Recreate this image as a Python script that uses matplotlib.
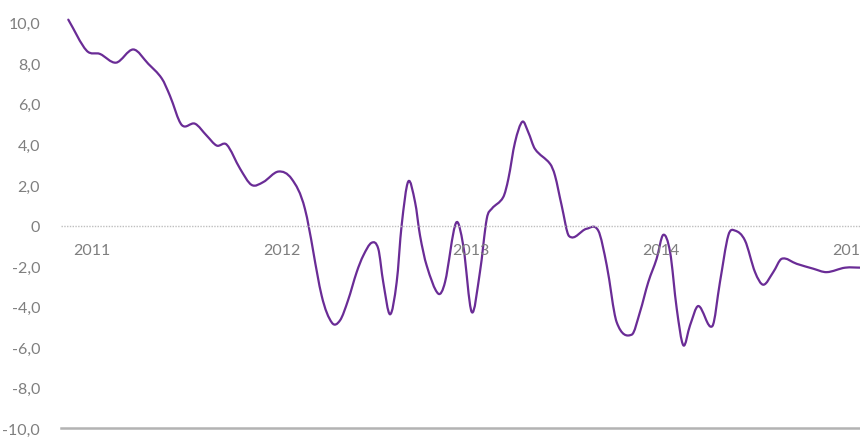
import numpy as np
import matplotlib.pyplot as plt
from matplotlib.path import Path
from matplotlib.patches import PathPatch
from matplotlib.ticker import FuncFormatter

# ===== data (decimal year, value) =====
dates = [
    2010.875, 2010.972, 2011.042, 2011.127, 2011.218, 2011.297, 2011.368, 2011.411,
    2011.473, 2011.543, 2011.605, 2011.658, 2011.710, 2011.781, 2011.842, 2011.903,
    2011.983, 2012.053, 2012.123, 2012.211, 2012.266, 2012.308, 2012.350, 2012.396,
    2012.431, 2012.475, 2012.510, 2012.536, 2012.572, 2012.607, 2012.633, 2012.668,
    2012.704, 2012.730, 2012.765, 2012.826, 2012.862, 2012.920, 2012.958, 2013.003,
    2013.046, 2013.082, 2013.108, 2013.169, 2013.196, 2013.231, 2013.270, 2013.301,
    2013.336, 2013.416, 2013.442, 2013.477, 2013.516, 2013.609, 2013.670, 2013.715,
    2013.767, 2013.847, 2013.890, 2013.934, 2013.978, 2014.013, 2014.049, 2014.084,
    2014.119, 2014.154, 2014.198, 2014.272, 2014.312, 2014.356, 2014.391, 2014.444,
    2014.497, 2014.541, 2014.593, 2014.638, 2014.717, 2014.804, 2014.875, 2014.972,
    2015.061,
]
values = [
    10.15, 8.62, 8.46, 8.03, 8.68, 7.97, 7.25, 6.40,
    4.96, 5.02, 4.43, 3.94, 3.99, 2.80, 2.00, 2.14,
    2.66, 2.30, 0.82, -3.45, -4.80, -4.68, -3.70, -2.30,
    -1.48, -0.85, -1.15, -2.79, -4.38, -2.79, 0.00, 2.17,
    1.15, -0.49, -1.97, -3.36, -2.79, 0.13, -0.99, -4.27,
    -2.30, 0.33, 0.82, 1.40, 2.30, 4.10, 5.12, 4.60,
    3.78, 3.04, 2.46, 0.99, -0.52, -0.16, -0.25, -1.97,
    -4.76, -5.38, -4.27, -2.79, -1.64, -0.46, -1.31, -4.10,
    -5.91, -4.93, -3.97, -4.96, -2.79, -0.49, -0.25, -0.74,
    -2.30, -2.92, -2.30, -1.64, -1.89, -2.13, -2.30, -2.08,
    -2.08,
]
year_labels = [2011, 2012, 2013, 2014, 2015]
y_ticks = [-10, -8, -6, -4, -2, 0, 2, 4, 6, 8, 10]

LINE_COLOR = "#6a2c96"
TEXT_COLOR = "#7f7f7f"


def smooth_path(x, y):
    # cubic Hermite through the points, as Bezier segments
    x = np.asarray(x, float)
    y = np.asarray(y, float)
    n = len(x)
    m = np.zeros(n)
    m[1:-1] = (y[2:] - y[:-2]) / (x[2:] - x[:-2])
    m[0] = (y[1] - y[0]) / (x[1] - x[0])
    m[-1] = (y[-1] - y[-2]) / (x[-1] - x[-2])
    verts = [(x[0], y[0])]
    codes = [Path.MOVETO]
    for i in range(n - 1):
        h = x[i + 1] - x[i]
        verts += [(x[i] + h / 3, y[i] + m[i] * h / 3),
                  (x[i + 1] - h / 3, y[i + 1] - m[i + 1] * h / 3),
                  (x[i + 1], y[i + 1])]
        codes += [Path.CURVE4] * 3
    return Path(verts, codes)


plt.rcParams["font.family"] = ["Lato", "DejaVu Sans"]

fig = plt.figure(figsize=(8.6, 4.39), dpi=100)
ax = fig.add_axes([61 / 860, 9.7 / 439, 1 - 61 / 860, (429.3 - 23.7) / 439])

patch = PathPatch(smooth_path(dates, values), facecolor="none",
                  edgecolor=LINE_COLOR, lw=1.6, clip_on=False,
                  capstyle="round", joinstyle="round")
ax.add_patch(patch)

ax.set_xlim(2011 + (61 - 92) / 189.6, 2011 + (860 - 92) / 189.6)
ax.set_ylim(-10, 10)

# zero line (dotted) and bottom axis line
ax.axhline(0, color="#bfbfbf", lw=1.0, ls=(0, (1, 1)), zorder=1)
for s in ["top", "right", "left"]:
    ax.spines[s].set_visible(False)
ax.spines["bottom"].set_color("#b3b3b3")
ax.spines["bottom"].set_linewidth(1.8)

ax.set_yticks(y_ticks)
ax.yaxis.set_major_formatter(FuncFormatter(
    lambda v, p: "0" if v == 0 else f"{v:.1f}".replace(".", ",")))
ax.tick_params(axis="y", length=0, pad=15, labelsize=11.5, labelcolor=TEXT_COLOR)
ax.set_xticks([])

# year labels sit just under the zero line
for yr in year_labels:
    ax.annotate(str(yr), xy=(yr, 0), xytext=(0, -18), textcoords="offset points",
                ha="center", va="center", fontsize=11.5, color=TEXT_COLOR,
                annotation_clip=False)

fig.savefig("out.png", dpi=100)
plt.close(fig)
